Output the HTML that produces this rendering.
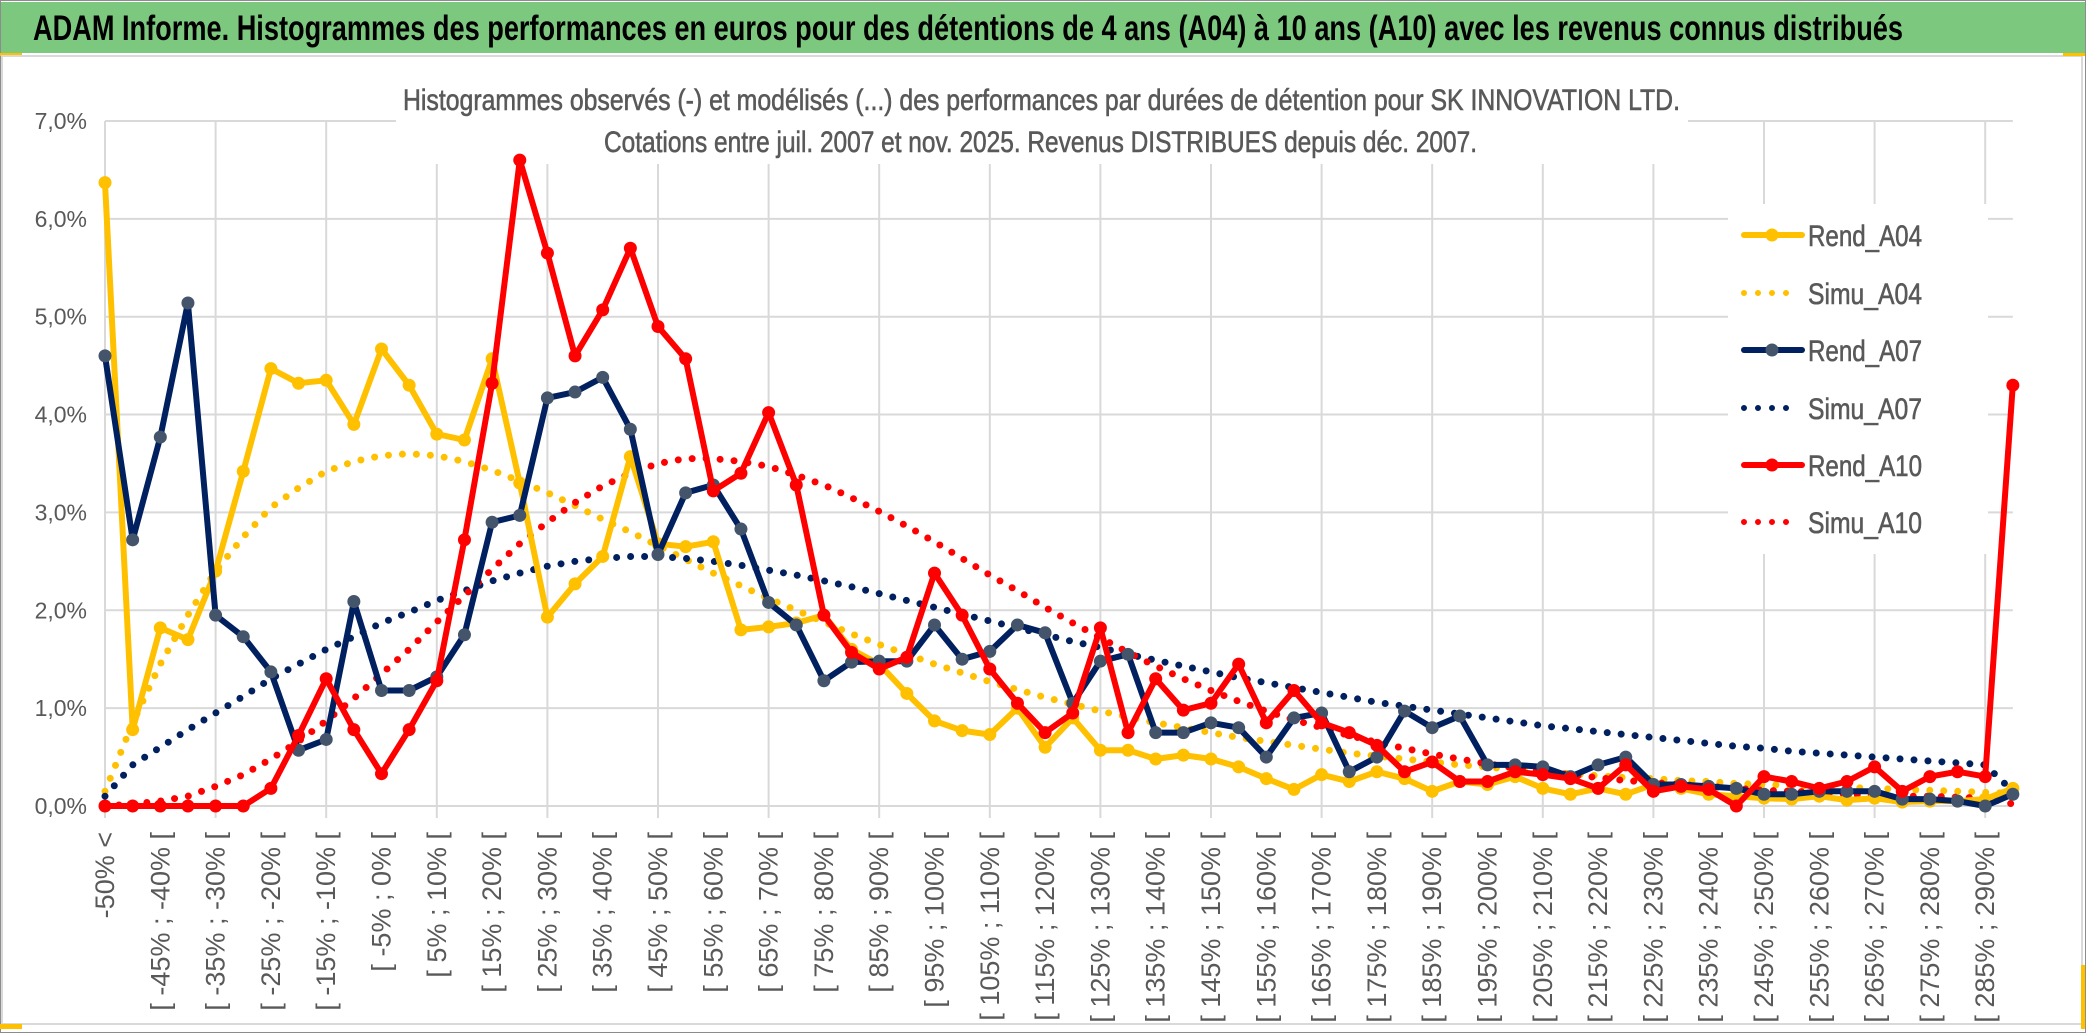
<!DOCTYPE html>
<html><head><meta charset="utf-8"><title>ADAM Informe histogrammes</title>
<style>
html,body{margin:0;padding:0;background:#fff;}
svg{display:block;font-family:"Liberation Sans Narrow","Liberation Sans",sans-serif;}
</style></head>
<body>
<svg id="chart" width="2086" height="1033" viewBox="0 0 2086 1033" xmlns="http://www.w3.org/2000/svg">
  <rect x="0" y="0" width="2086" height="1033" fill="#ffffff"/>
  <rect x="0.5" y="0.5" width="2085" height="1032" fill="none" stroke="#8c8c8c" stroke-width="1"/>
  <rect x="1" y="2" width="2084" height="51" fill="#7dc87f"/>
  <text x="33" y="40" font-size="35" font-weight="bold" fill="#000" textLength="1870" lengthAdjust="spacingAndGlyphs">ADAM Informe. Histogrammes des performances en euros pour des détentions de 4 ans (A04) à 10 ans (A10) avec les revenus connus distribués</text>
  <rect x="0" y="53" width="22" height="3" fill="#ffc000"/>
  <rect x="2" y="56" width="2080" height="968" fill="#ffffff" stroke="#d9d9d9" stroke-width="2"/>
  <rect x="2063" y="53" width="22" height="3" fill="#ffc000"/>
  <rect x="2081" y="965" width="4" height="64" fill="#ffc000"/>
  <rect x="0" y="1024" width="22" height="5" fill="#ffc000"/>
  <g id="grid"></g>
  <g id="ylabels"></g>
  <g id="xlabels"></g>
  <rect x="396" y="80" width="1292" height="84" fill="#ffffff"/>
  <text x="403" y="110" font-size="30" fill="#595959" stroke="#595959" stroke-width="0.6" textLength="1277" lengthAdjust="spacingAndGlyphs">Histogrammes observés (-) et modélisés (...) des performances par durées de détention pour SK INNOVATION LTD.</text>
  <text x="604" y="152" font-size="30" fill="#595959" stroke="#595959" stroke-width="0.6" textLength="873" lengthAdjust="spacingAndGlyphs">Cotations entre juil. 2007 et nov. 2025. Revenus DISTRIBUES depuis déc. 2007.</text>
  <rect x="1728" y="204" width="260" height="350" fill="#ffffff"/>
  <g id="series"></g>
  <g id="legend"></g>
</svg>
<script>
const categories = ["-50% <"];
for (let v = -50; v < 295; v += 5) categories.push("[ " + v + "% ; " + (v + 5) + "% [");
const yTicks = [0, 1, 2, 3, 4, 5, 6, 7];
const yTickLabels = ["0,0%", "1,0%", "2,0%", "3,0%", "4,0%", "5,0%", "6,0%", "7,0%"];
const rendA04 = [6.37,0.78,1.82,1.70,2.40,3.42,4.47,4.32,4.35,3.90,4.67,4.30,3.80,3.74,4.57,3.30,1.93,2.27,2.55,3.57,2.68,2.65,2.70,1.80,1.83,1.87,1.95,1.60,1.45,1.15,0.87,0.77,0.73,1.00,0.60,0.90,0.57,0.57,0.48,0.52,0.48,0.40,0.28,0.17,0.32,0.25,0.35,0.28,0.15,0.25,0.22,0.30,0.18,0.12,0.18,0.12,0.22,0.18,0.12,0.10,0.08,0.07,0.10,0.06,0.08,0.04,0.05,0.05,0.07,0.18];
const simuA04 = [0.15,0.85,1.45,1.95,2.40,2.75,3.05,3.25,3.42,3.52,3.58,3.60,3.58,3.52,3.43,3.32,3.20,3.07,2.93,2.80,2.66,2.52,2.38,2.25,2.12,2.00,1.88,1.76,1.65,1.55,1.45,1.36,1.27,1.19,1.11,1.04,0.97,0.91,0.85,0.80,0.75,0.70,0.66,0.62,0.58,0.54,0.51,0.48,0.45,0.42,0.40,0.37,0.35,0.33,0.31,0.29,0.28,0.26,0.25,0.23,0.22,0.21,0.20,0.19,0.18,0.17,0.16,0.15,0.14,0.13];
const rendA07 = [4.60,2.72,3.77,5.14,1.95,1.73,1.37,0.57,0.68,2.09,1.18,1.18,1.32,1.75,2.90,2.97,4.17,4.23,4.38,3.85,2.57,3.20,3.28,2.83,2.08,1.85,1.28,1.47,1.48,1.48,1.85,1.50,1.58,1.85,1.77,1.05,1.48,1.55,0.75,0.75,0.85,0.80,0.50,0.90,0.95,0.35,0.50,0.97,0.80,0.92,0.42,0.42,0.40,0.30,0.42,0.50,0.22,0.22,0.20,0.18,0.12,0.12,0.15,0.15,0.15,0.07,0.07,0.05,0.00,0.12];
const simuA07 = [0.10,0.42,0.60,0.78,0.95,1.12,1.30,1.45,1.60,1.73,1.87,1.98,2.10,2.20,2.30,2.38,2.45,2.50,2.53,2.55,2.55,2.53,2.50,2.46,2.41,2.36,2.30,2.24,2.17,2.10,2.03,1.96,1.89,1.82,1.75,1.68,1.62,1.55,1.49,1.43,1.37,1.31,1.26,1.21,1.16,1.11,1.06,1.02,0.98,0.94,0.90,0.86,0.82,0.79,0.76,0.73,0.70,0.67,0.64,0.61,0.59,0.56,0.54,0.52,0.50,0.48,0.46,0.44,0.42,0.15];
const rendA10 = [0,0,0,0,0,0,0.18,0.72,1.30,0.78,0.33,0.78,1.28,2.72,4.32,6.60,5.65,4.60,5.07,5.70,4.90,4.57,3.22,3.40,4.02,3.28,1.95,1.57,1.40,1.52,2.38,1.95,1.40,1.05,0.75,0.95,1.82,0.75,1.30,0.98,1.05,1.45,0.85,1.18,0.85,0.75,0.62,0.35,0.45,0.25,0.25,0.35,0.32,0.28,0.18,0.42,0.15,0.20,0.17,0.00,0.30,0.25,0.18,0.25,0.40,0.15,0.30,0.35,0.30,4.30];
const simuA10 = [0.00,0.02,0.05,0.10,0.20,0.32,0.48,0.66,0.87,1.10,1.35,1.60,1.88,2.15,2.42,2.68,2.90,3.10,3.27,3.40,3.50,3.55,3.55,3.52,3.47,3.38,3.28,3.15,3.01,2.86,2.70,2.53,2.36,2.20,2.03,1.87,1.72,1.57,1.43,1.30,1.18,1.07,0.97,0.88,0.80,0.72,0.65,0.59,0.53,0.48,0.43,0.39,0.35,0.32,0.29,0.26,0.24,0.22,0.20,0.18,0.16,0.15,0.14,0.12,0.11,0.10,0.10,0.09,0.08,0.02];
const seriesNames = ["Rend_A04","Simu_A04","Rend_A07","Simu_A07","Rend_A10","Simu_A10"];

const NS = "http://www.w3.org/2000/svg";
const X0 = 105, DX = 27.65, Y0 = 806, DY = 97.86;
function xScale(i){ return X0 + i * DX; }
function yScale(v){ return Y0 - v * DY; }
function mk(tag, attrs, parent){
  const el = document.createElementNS(NS, tag);
  for (const k in attrs) el.setAttribute(k, attrs[k]);
  parent.appendChild(el);
  return el;
}
const grid = document.getElementById("grid");
const nCat = categories.length;
const xRight = xScale(nCat - 1);
yTicks.forEach(function(t){
  const l = mk("line", {x1: X0, x2: xRight, y1: yScale(t), y2: yScale(t), stroke: "#d9d9d9", "stroke-width": 2}, grid);
  
  
});
for (let i = 0; i < nCat; i += 4) {
  const l = mk("line", {x1: xScale(i), x2: xScale(i), y1: yScale(7), y2: yScale(0) + 12, stroke: "#d9d9d9", "stroke-width": 2}, grid);
  
  
}
const yl = document.getElementById("ylabels");
yTicks.forEach(function(t, i){
  const tx = mk("text", {x: 87, y: yScale(t) + 8, "text-anchor": "end", "font-size": 23, fill: "#595959"}, yl);
  tx.textContent = yTickLabels[i];
  
  
});
const xl = document.getElementById("xlabels");
for (let i = 0; i < nCat; i += 2) {
  const x = xScale(i);
  const tx = mk("text", {x: x, y: 832, "text-anchor": "end", "font-size": 27, "font-family": "'Liberation Sans', sans-serif", fill: "#595959", dy: 9, transform: "rotate(-90 " + x + " 832)"}, xl);
  tx.textContent = categories[i];
  
  
}
const sg = document.getElementById("series");
function pts(arr){ return arr.map(function(v, i){ return xScale(i).toFixed(1) + "," + yScale(v).toFixed(1); }).join(" "); }
function dotted(arr, color, name){
  const p = mk("polyline", {points: pts(arr), fill: "none", stroke: color, "stroke-width": 7, "stroke-linecap": "round", "stroke-dasharray": "0 14"}, sg);
  
  
}
function solid(arr, color, mcolor, name){
  const p = mk("polyline", {points: pts(arr), fill: "none", stroke: color, "stroke-width": 6, "stroke-linejoin": "round", "stroke-linecap": "round"}, sg);
  
  
  arr.forEach(function(v, i){
    const c = mk("circle", {cx: xScale(i), cy: yScale(v), r: 6.5, fill: mcolor}, sg);
    
    
  });
}
dotted(simuA04, "#ffc000", "simu-a04-line");
dotted(simuA07, "#002060", "simu-a07-line");
dotted(simuA10, "#ff0000", "simu-a10-line");
solid(rendA04, "#ffc000", "#ffc000", "rend-a04-line");
solid(rendA07, "#002060", "#44546a", "rend-a07-line");
solid(rendA10, "#ff0000", "#ff0000", "rend-a10-line");

const lg = document.getElementById("legend");
const legY = [235, 293, 350, 408, 465, 522];
const legColors = ["#ffc000","#ffc000","#002060","#002060","#ff0000","#ff0000"];
const legMarker = ["#ffc000", null, "#44546a", null, "#ff0000", null];
seriesNames.forEach(function(n, i){
  const g = mk("g", {}, lg);
  
  
  const y = legY[i];
  if (legMarker[i]) {
    mk("line", {x1: 1744, x2: 1802, y1: y, y2: y, stroke: legColors[i], "stroke-width": 6, "stroke-linecap": "round"}, g);
    mk("circle", {cx: 1772, cy: y, r: 6.5, fill: legMarker[i]}, g);
  } else {
    mk("line", {x1: 1744, x2: 1800, y1: y, y2: y, stroke: legColors[i], "stroke-width": 6, "stroke-linecap": "round", "stroke-dasharray": "0 14"}, g);
  }
  const t = mk("text", {x: 1808, y: y + 11, "font-size": 30, fill: "#595959", stroke: "#595959", "stroke-width": 0.6, textLength: 114, lengthAdjust: "spacingAndGlyphs"}, g);
  t.textContent = n;
});
</script>
</body></html>
